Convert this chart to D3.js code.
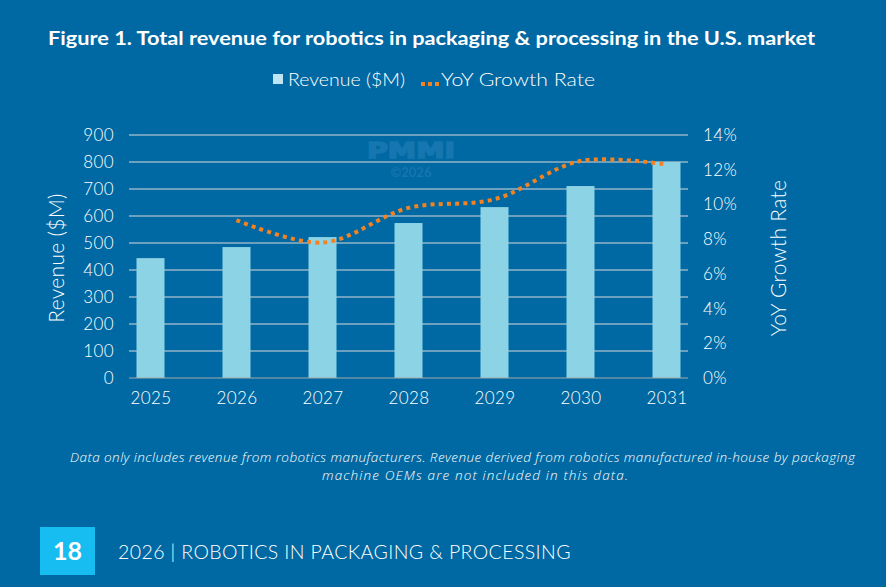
<!DOCTYPE html>
<html>
<head>
<meta charset="utf-8">
<script src="https://cdn.jsdelivr.net/npm/d3@7"></script>
<style>
  html, body { margin: 0; padding: 0; background: #0069a3; }
  svg { display: block; }
</style>
</head>
<body>
<script>
// values
let years = ['2025', '2026', '2027', '2028', '2029', '2030', '2031']
let revenue = [444, 485, 522, 574, 633, 711, 800]
let growth = [null, 9.1, 7.8, 9.8, 10.3, 12.5, 12.3]
let revTicks = [0, 100, 200, 300, 400, 500, 600, 700, 800, 900]
let pctTicks = [0, 2, 4, 6, 8, 10, 12, 14]

let w = 886
let h = 587
let font = 'Lato, "Open Sans", sans-serif'

let svg = d3.select('body').append('svg').attr('width', w).attr('height', h)

svg.append('rect').attr('width', w).attr('height', h).attr('fill', '#0069a3')

let x = d3.scalePoint().domain(years).range([129, 688]).padding(0.25)
let y = d3.scaleLinear().domain([0, 900]).range([378, 135])
let y2 = d3.scaleLinear().domain([0, 14]).range([378, 135])
let barW = 28

// title
svg.append('text')
  .text('Figure 1. Total revenue for robotics in packaging & processing in the U.S. market')
  .attr('x', 48).attr('y', 45)
  .attr('textLength', 767).attr('lengthAdjust', 'spacingAndGlyphs')
  .attr('font-family', font).attr('font-weight', 'bold').attr('font-size', 18.5)
  .attr('fill', 'white')

// legend
let lg = svg.append('g').attr('font-family', font).attr('font-weight', 300).attr('font-size', 18)
  .attr('fill', 'white')
lg.append('rect').attr('x', 273).attr('y', 74).attr('width', 10).attr('height', 10).attr('fill', '#bfe4f1')
lg.append('text').text('Revenue ($M)').attr('x', 288).attr('y', 86)
  .attr('textLength', 117).attr('lengthAdjust', 'spacingAndGlyphs')
lg.append('line').attr('x1', 421).attr('x2', 439).attr('y1', 84).attr('y2', 84)
  .attr('stroke', '#f58220').attr('stroke-width', 4).attr('stroke-dasharray', '4,3')
lg.append('text').text('YoY Growth Rate').attr('x', 441).attr('y', 86)
  .attr('textLength', 154).attr('lengthAdjust', 'spacingAndGlyphs')

// watermark
svg.append('text').text('PMMI').attr('x', 367).attr('y', 158)
  .attr('textLength', 88).attr('lengthAdjust', 'spacingAndGlyphs')
  .attr('font-family', '"DejaVu Sans", sans-serif').attr('font-weight', 'bold')
  .attr('font-size', 21).attr('stroke', '#1676b0').attr('stroke-width', 1.5).attr('fill', '#1676b0')
svg.append('text').text('©2026').attr('x', 411).attr('y', 177)
  .attr('text-anchor', 'middle').attr('font-family', font).attr('font-weight', 'bold')
  .attr('font-size', 13).attr('fill', '#1676b0')

// gridlines
svg.append('g').selectAll('line')
  .data(revTicks.slice(1))
  .enter().append('line')
  .attr('x1', 129).attr('x2', 688)
  .attr('y1', d => y(d)).attr('y2', d => y(d))
  .attr('stroke', '#d9d9d9').attr('stroke-width', 1)

// bars
svg.append('g').selectAll('rect')
  .data(revenue)
  .enter().append('rect')
  .attr('x', (d, i) => x(years[i]) - barW / 2)
  .attr('y', d => y(d))
  .attr('width', barW)
  .attr('height', d => y(0) - y(d))
  .attr('fill', '#8bd3e5')

// baseline
svg.append('line').attr('x1', 129).attr('x2', 688).attr('y1', y(0)).attr('y2', y(0))
  .attr('stroke', '#a6a6a6').attr('stroke-width', 1)

// growth line
let line = d3.line()
  .defined(d => d != null)
  .x((d, i) => x(years[i]))
  .y(d => y2(d))
  .curve(d3.curveCatmullRom.alpha(0.5))

svg.append('path')
  .datum(growth)
  .attr('d', line)
  .attr('fill', 'none')
  .attr('stroke', '#f58220')
  .attr('stroke-width', 4)
  .attr('stroke-dasharray', '4,4.2')

let tickStyle = sel => sel.attr('font-family', font).attr('font-weight', 300)
  .attr('font-size', 17).attr('letter-spacing', 0.4).attr('fill', 'white')

// left axis
let ax = svg.append('g').attr('transform', 'translate(114,0)')
  .call(d3.axisLeft(y).tickValues(revTicks).tickSize(0).tickPadding(0))
ax.select('.domain').remove()
ax.selectAll('text').call(tickStyle)

// right axis
let ax2 = svg.append('g').attr('transform', 'translate(703,0)')
  .call(d3.axisRight(y2).tickValues(pctTicks).tickFormat(d => d + '%').tickSize(0).tickPadding(0))
ax2.select('.domain').remove()
ax2.selectAll('text').call(tickStyle)

// x axis
let ax3 = svg.append('g').attr('transform', 'translate(0,392)')
  .call(d3.axisBottom(x).tickSize(0).tickPadding(0))
ax3.select('.domain').remove()
ax3.selectAll('text').call(tickStyle)

// axis titles
svg.append('text').text('Revenue ($M)')
  .attr('transform', 'translate(64,258) rotate(-90)')
  .attr('text-anchor', 'middle').attr('font-family', font).attr('font-weight', 300)
  .attr('font-size', 21).attr('letter-spacing', 0.3).attr('fill', 'white')
svg.append('text').text('YoY Growth Rate')
  .attr('transform', 'translate(786,258) rotate(-90)')
  .attr('text-anchor', 'middle').attr('font-family', font).attr('font-weight', 300)
  .attr('font-size', 21).attr('letter-spacing', 0.3).attr('fill', 'white')

// footnote
let note = svg.append('text').attr('font-family', '"Open Sans", sans-serif')
  .attr('font-style', 'italic').attr('font-weight', 300).attr('font-size', 13.5).attr('fill', 'white')
note.append('tspan').attr('x', 70).attr('y', 462).attr('textLength', 785)
  .text('Data only includes revenue from robotics manufacturers. Revenue derived from robotics manufactured in-house by packaging')
note.append('tspan').attr('x', 322).attr('y', 480).attr('textLength', 306)
  .text('machine OEMs are not included in this data.')

// page footer
svg.append('rect').attr('x', 40).attr('y', 527).attr('width', 55).attr('height', 48).attr('fill', '#17bdf0')
svg.append('text').text('18').attr('x', 67.5).attr('y', 560)
  .attr('text-anchor', 'middle').attr('font-family', font).attr('font-weight', 'bold')
  .attr('font-size', 25).attr('fill', 'white')
svg.append('text').text('2026 | ROBOTICS IN PACKAGING & PROCESSING')
  .attr('x', 118).attr('y', 559)
  .attr('font-family', font).attr('font-weight', 300)
  .attr('font-size', 19.5).attr('letter-spacing', 0.4).attr('fill', 'white')
</script>
</body>
</html>
